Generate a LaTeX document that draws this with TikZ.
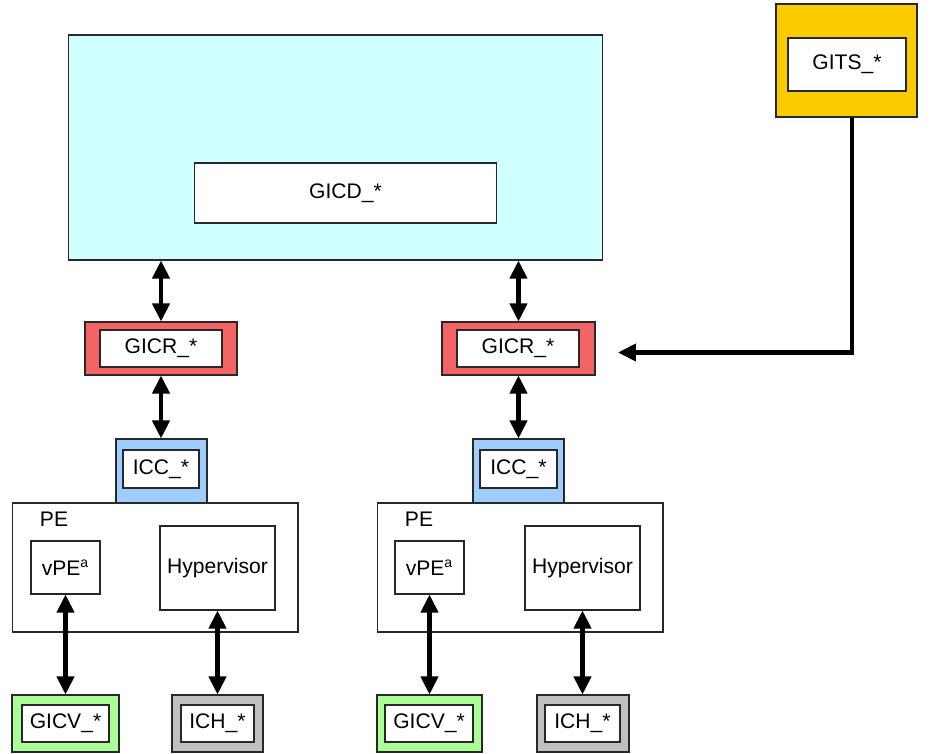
\documentclass[tikz,border=0pt]{standalone}
\usepackage{fontspec}
\setmainfont{Liberation Sans}
\usepackage{tikz}
\usetikzlibrary{arrows.meta, positioning}
\definecolor{cyandist}{RGB}{208,255,255}
\definecolor{jauneits}{RGB}{250,204,0}
\definecolor{rougercr}{RGB}{245,100,100}
\definecolor{bleuicc}{RGB}{160,205,255}
\definecolor{vertgicv}{RGB}{170,255,150}
\definecolor{grisich}{RGB}{192,192,192}
\definecolor{trait}{RGB}{40,40,40}

\begin{document}
\begin{tikzpicture}[x=0.02cm, y=-0.02cm, font=\fontsize{12pt}{14pt}\selectfont,
		box/.style={draw=trait, line width=0.6pt, inner sep=0pt},
		inbox/.style={box, fill=white},
		tip/.tip={Triangle[length=0.36cm, width=0.34cm]},
		dbl/.style={tip-tip, line width=2.3pt},
		arr/.style={-tip, line width=2.3pt}]
				\useasboundingbox (0,0) rectangle (931,754);
				
				% distributeur
				\node[box, fill=cyandist, minimum width=10.70cm, minimum height=4.50cm]
				(dist) at (335.5,147.5) {};
				\node[inbox, minimum width=6.06cm, minimum height=1.20cm]
				(GICD) at (345.5,193) {GICD\_*};
				
				% ITS
				\node[box, fill=jauneits, minimum width=2.82cm, minimum height=2.26cm]
				(GITS) at (846.5,60.5) {};
				\node[inbox, minimum width=2.36cm, minimum height=1.06cm]
				(GITSin) at (847,64.5) {GITS\_*};
				
				% redistributeurs
				\node[box, fill=rougercr, minimum width=3.04cm, minimum height=1.06cm]
				(GICRa) at (161,348.5) {};
				\node[inbox, minimum width=2.44cm, minimum height=0.74cm]
				(GICRain) at (161,348.5) {GICR\_*};
				\node[box, fill=rougercr, minimum width=3.06cm, minimum height=1.06cm]
				(GICRb) at (518.5,348.5) {};
				\node[inbox, minimum width=2.44cm, minimum height=0.74cm]
				(GICRbin) at (518,348.5) {GICR\_*};
				
				% interfaces CPU
				\node[box, fill=bleuicc, minimum width=1.82cm, minimum height=1.28cm]
				(ICCa) at (161.5,471) {};
				\node[inbox, minimum width=1.52cm, minimum height=0.76cm]
				(ICCain) at (161,469) {ICC\_*};
				\node[box, fill=bleuicc, minimum width=1.82cm, minimum height=1.28cm]
				(ICCb) at (518.5,471) {};
				\node[inbox, minimum width=1.54cm, minimum height=0.76cm]
				(ICCbin) at (518.5,469) {ICC\_*};
				
				% PE
				\node[inbox, minimum width=5.72cm, minimum height=2.58cm]
				(PEa) at (155,567.5) {};
				\node (PEalabel) at (54,519) {PE};
				\node[inbox, minimum width=1.38cm, minimum height=1.06cm]
				(vPEa) at (65.5,567.5) {vPE\textsuperscript{a}};
				\node[inbox, minimum width=2.30cm, minimum height=1.68cm]
				(Hypa) at (217.5,568) {Hypervisor};
				
				\node[inbox, minimum width=5.72cm, minimum height=2.58cm]
				(PEb) at (520,567.5) {};
				\node (PEblabel) at (419,519) {PE};
				\node[inbox, minimum width=1.38cm, minimum height=1.06cm]
				(vPEb) at (429.5,567.5) {vPE\textsuperscript{a}};
				\node[inbox, minimum width=2.30cm, minimum height=1.68cm]
				(Hypb) at (582.5,568) {Hypervisor};
				
				% interfaces virtuelles
				\node[box, fill=vertgicv, minimum width=2.14cm, minimum height=1.14cm]
				(GICVa) at (65.5,723.5) {};
				\node[inbox, minimum width=1.74cm, minimum height=0.74cm]
				(GICVain) at (65.5,723.5) {GICV\_*};
				\node[box, fill=grisich, minimum width=1.82cm, minimum height=1.14cm]
				(ICHa) at (217.5,723.5) {};
				\node[inbox, minimum width=1.46cm, minimum height=0.74cm]
				(ICHain) at (217.5,723.5) {ICH\_*};
				
				\node[box, fill=vertgicv, minimum width=2.10cm, minimum height=1.14cm]
				(GICVb) at (429.5,723.5) {};
				\node[inbox, minimum width=1.76cm, minimum height=0.74cm]
				(GICVbin) at (429,723.5) {GICV\_*};
				\node[box, fill=grisich, minimum width=1.84cm, minimum height=1.14cm]
				(ICHb) at (583,723.5) {};
				\node[inbox, minimum width=1.50cm, minimum height=0.74cm]
				(ICHbin) at (582.5,723.5) {ICH\_*};
				
				\coordinate (itsin) at (618,352.5);
				
				\draw[dbl] (dist.south -| GICRa.north) -- (GICRa.north);
				\draw[dbl] (dist.south -| GICRb.north) -- (GICRb.north);
				\draw[dbl] (GICRa.south) -- (GICRa.south |- ICCa.north);
				\draw[dbl] (GICRb.south) -- (GICRb.south |- ICCb.north);
				\draw[dbl] (vPEa.south) -- (vPEa.south |- GICVa.north);
				\draw[dbl] (vPEb.south) -- (vPEb.south |- GICVb.north);
				\draw[dbl] (Hypa.south) -- (Hypa.south |- ICHa.north);
				\draw[dbl] (Hypb.south) -- (Hypb.south |- ICHb.north);
				\draw[arr] ([xshift=0.11cm]GITS.south) |- (itsin);
			\end{tikzpicture}
\end{document}
